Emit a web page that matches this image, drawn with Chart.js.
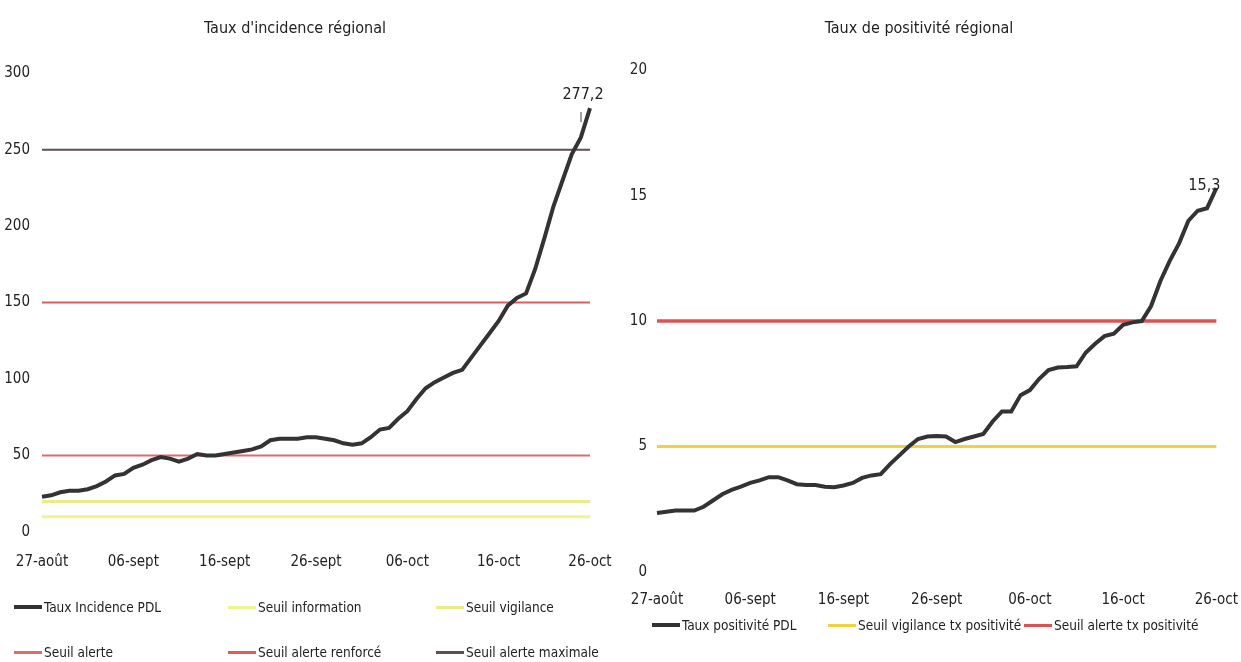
<!DOCTYPE html>
<html lang="fr">
<head>
<meta charset="utf-8">
<title>Taux d'incidence et de positivité régionaux</title>
<script src="https://cdn.jsdelivr.net/npm/chart.js@4.4.1/dist/chart.umd.min.js"></script>
<style>
  body { margin: 0; background: #fff; width: 1241px; height: 662px; overflow: hidden;
         font-family: 'Liberation Sans Narrow', 'DejaVu Sans Condensed', sans-serif; color: #222; }
  .panel { position: absolute; top: 0; height: 662px; }
  #left { left: 0; width: 620px; }
  #right { left: 620px; width: 621px; }
  .item { position: absolute; display: flex; align-items: center; white-space: nowrap;
          transform: translateY(-50%); font-size: 13.5px; }
  .swatch { width: 28px; height: 0; border-top-style: solid; margin-right: 2px; }
</style>
</head>
<body>
<div class="panel" id="left"><canvas id="incidence-chart" width="620" height="662"></canvas></div>
<div class="panel" id="right"><canvas id="positivite-chart" width="621" height="662"></canvas></div>
<script>
const dates = [
  '27-août','28-août','29-août','30-août','31-août',
  '01-sept','02-sept','03-sept','04-sept','05-sept','06-sept','07-sept','08-sept','09-sept','10-sept',
  '11-sept','12-sept','13-sept','14-sept','15-sept','16-sept','17-sept','18-sept','19-sept','20-sept',
  '21-sept','22-sept','23-sept','24-sept','25-sept','26-sept','27-sept','28-sept','29-sept','30-sept',
  '01-oct','02-oct','03-oct','04-oct','05-oct','06-oct','07-oct','08-oct','09-oct','10-oct',
  '11-oct','12-oct','13-oct','14-oct','15-oct','16-oct','17-oct','18-oct','19-oct','20-oct',
  '21-oct','22-oct','23-oct','24-oct','25-oct','26-oct'
];
const tickLabels = ['27-août', '06-sept', '16-sept', '26-sept', '06-oct', '16-oct', '26-oct'];

// Taux d'incidence PDL (pour 100 000 hab.)
const tauxIncidence = [
  23, 24, 26, 27, 27, 28, 30, 33, 37, 38,
  42, 44, 47, 49, 48, 46, 48, 51, 50, 50,
  51, 52, 53, 54, 56, 60, 61, 61, 61, 62,
  62, 61, 60, 58, 57, 58, 62, 67, 68, 74,
  79, 87, 94, 98, 101, 104, 106, 114, 122, 130,
  138, 148, 153, 156, 172, 192, 213, 230, 247, 258,
  277.2
];
// Taux de positivité PDL (%)
const tauxPositivite = [
  2.35, 2.4, 2.45, 2.45, 2.45, 2.6, 2.85, 3.1, 3.27, 3.4,
  3.55, 3.65, 3.78, 3.78, 3.65, 3.5, 3.47, 3.47, 3.4, 3.38,
  3.45, 3.55, 3.75, 3.85, 3.9, 4.3, 4.65, 5.0, 5.3, 5.4,
  5.42, 5.4, 5.18, 5.3, 5.4, 5.5, 6.0, 6.4, 6.4, 7.05,
  7.25, 7.7, 8.05, 8.15, 8.17, 8.2, 8.75, 9.1, 9.4, 9.5,
  9.85, 9.95, 10.0, 10.6, 11.6, 12.4, 13.1, 14.0, 14.4, 14.5,
  15.3
];

const seuilInformation = 10;
const seuilVigilance = 20;
const seuilAlerte = 50;
const seuilAlerteRenforce = 150;
const seuilAlerteMaximale = 250;
const seuilVigilancePos = 5;
const seuilAlertePos = 10;

const FONT = "'Liberation Sans Narrow', 'DejaVu Sans Condensed', sans-serif";

// horizontal threshold: first and last day only
const seuil = (v) => [{x: dates[0], y: v}, {x: dates[dates.length - 1], y: v}];

const line = (label, data, color, width) => ({
  label: label,
  data: data,
  borderColor: color,
  backgroundColor: color,
  borderWidth: width,
  pointRadius: 0,
  tension: 0,
});

const lastValueLabel = {
  id: 'lastValueLabel',
  afterDatasetsDraw(chart, args, opts) {
    const meta = chart.getDatasetMeta(0);
    const pt = meta.data[meta.data.length - 1];
    const values = chart.data.datasets[0].data;
    const ctx = chart.ctx;
    ctx.save();
    ctx.font = '16px ' + FONT;
    ctx.fillStyle = '#222';
    ctx.textAlign = 'center';
    ctx.textBaseline = 'middle';
    ctx.fillText(values[values.length - 1].toLocaleString('fr-FR'), pt.x + opts.dx, pt.y + opts.dy);
    if (opts.leader) {
      ctx.strokeStyle = '#444';
      ctx.lineWidth = 1;
      ctx.beginPath();
      ctx.moveTo(pt.x - 9, pt.y + 4);
      ctx.lineTo(pt.x - 9, pt.y + 14);
      ctx.stroke();
    }
    ctx.restore();
  }
};

// o: yWidth, yPad, xTick (gap below plot), padRight, padBottom, titleBottom, label
const makeOptions = (title, max, step, o) => ({
  responsive: false,
  animation: false,
  layout: { padding: { left: 0, right: o.padRight, top: 0, bottom: o.padBottom } },
  plugins: {
    legend: { display: false },
    tooltip: { enabled: false },
    title: {
      display: true,
      text: title,
      color: '#222',
      font: { family: FONT, size: 16, weight: 'normal' },
      padding: { top: 19, bottom: o.titleBottom },
    },
    lastValueLabel: o.label,
  },
  scales: {
    x: {
      type: 'category',
      labels: dates,
      offset: false,
      grid: { display: false, tickLength: o.xTick },
      border: { display: false },
      ticks: {
        autoSkip: false,
        maxRotation: 0,
        padding: 3,
        color: '#222',
        font: { family: FONT, size: 15 },
        callback: function (value) {
          const l = this.getLabelForValue(value);
          return tickLabels.includes(l) ? l : '';
        },
      },
      afterFit: (axis) => { axis.height = 50; },
    },
    y: {
      min: 0,
      max: max,
      grid: { display: false },
      border: { display: false },
      ticks: {
        stepSize: step,
        padding: o.yPad,
        color: '#222',
        font: { family: FONT, size: 15 },
      },
      afterFit: (axis) => { axis.width = o.yWidth; },
    },
  },
});

const incidence = new Chart(document.getElementById('incidence-chart'), {
  type: 'line',
  data: {
    datasets: [
      line('Taux Incidence PDL', tauxIncidence, '#333333', 4),
      line('Seuil information', seuil(seuilInformation), '#eff58c', 3),
      line('Seuil vigilance', seuil(seuilVigilance), '#ebec86', 3),
      line('Seuil alerte', seuil(seuilAlerte), '#e06a6e', 2),
      line('Seuil alerte renforcé', seuil(seuilAlerteRenforce), '#e05c5c', 2),
      line('Seuil alerte maximale', seuil(seuilAlerteMaximale), '#5e5052', 2),
    ],
  },
  options: makeOptions("Taux d'incidence régional", 300, 50, {
    yWidth: 42, yPad: 4, xTick: 18, padRight: 30, padBottom: 80, titleBottom: 35,
    label: {dx: -7, dy: -13, leader: true},
  }),
  plugins: [lastValueLabel],
});

const positivite = new Chart(document.getElementById('positivite-chart'), {
  type: 'line',
  data: {
    datasets: [
      line('Taux positivité PDL', tauxPositivite, '#333333', 4),
      line('Seuil vigilance tx positivité', seuil(seuilVigilancePos), '#f2d13f', 3),
      line('Seuil alerte tx positivité', seuil(seuilAlertePos), '#e05252', 3.5),
    ],
  },
  options: makeOptions('Taux de positivité régional', 20, 5, {
    yWidth: 37, yPad: 2, xTick: 16, padRight: 23, padBottom: 40, titleBottom: 32,
    label: {dx: -12, dy: -2, leader: false},
  }),
  plugins: [lastValueLabel],
});

// legends drawn in HTML, in the grid used by the original
const buildLegend = (chart, panelId, slots) => {
  const panel = document.getElementById(panelId);
  chart.data.datasets.forEach((ds, i) => {
    const item = document.createElement('div');
    item.className = 'item';
    item.style.left = slots[i][0] + 'px';
    item.style.top = slots[i][1] + 'px';
    const sw = document.createElement('span');
    sw.className = 'swatch';
    sw.style.borderTopColor = ds.borderColor;
    sw.style.borderTopWidth = Math.max(ds.borderWidth, 3) + 'px';
    item.appendChild(sw);
    item.appendChild(document.createTextNode(ds.label));
    panel.appendChild(item);
  });
};

buildLegend(incidence, 'left', [[14, 607], [228, 607], [436, 607], [14, 652], [228, 652], [436, 652]]);
buildLegend(positivite, 'right', [[32, 625], [208, 625], [404, 625]]);
</script>
</body>
</html>
